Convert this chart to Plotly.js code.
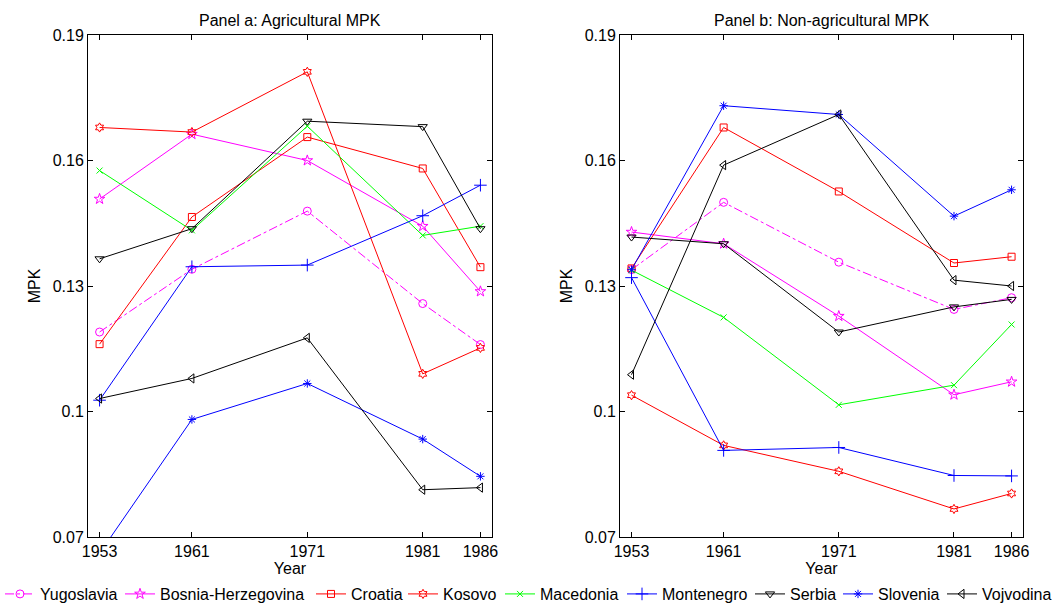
<!DOCTYPE html>
<html><head><meta charset="utf-8">
<script src="https://cdn.plot.ly/plotly-3.0.1.min.js"></script>
<style>body{margin:0;background:#fff}#c{width:1058px;height:608px}</style>
</head><body><div id="c"></div>
<script>
const years = [1953, 1961, 1971, 1981, 1986];
const regions = ["Yugoslavia","Bosnia-Herzegovina","Croatia","Kosovo","Macedonia","Montenegro","Serbia","Slovenia","Vojvodina"];
// Panel a: Agricultural MPK
const agYugoslavia = [0.1190, 0.1340, 0.1479, 0.1258, 0.1160];
const agBosnia     = [0.1508, 0.1663, 0.1600, 0.1443, 0.1287];
const agCroatia    = [0.1161, 0.1465, 0.1656, 0.1581, 0.1345];
const agKosovo     = [0.1679, 0.1668, 0.1812, 0.1090, 0.1152];
const agMacedonia  = [0.1576, 0.1433, 0.1682, 0.1421, 0.1443];
const agMontenegro = [0.1027, 0.1346, 0.1350, 0.1468, 0.1541];
const agSerbia     = [0.1365, 0.1437, 0.1694, 0.1681, 0.1437];
const agSlovenia   = [0.0661, 0.0981, 0.1067, 0.0934, 0.0845];
const agVojvodina  = [0.1031, 0.1079, 0.1176, 0.0813, 0.0818];
// Panel b: Non-agricultural MPK
const naYugoslavia = [0.1339, 0.1500, 0.1357, 0.1244, 0.1272];
const naBosnia     = [0.1429, 0.1401, 0.1228, 0.1040, 0.1071];
const naCroatia    = [0.1342, 0.1679, 0.1526, 0.1355, 0.1370];
const naKosovo     = [0.1039, 0.0919, 0.0857, 0.0767, 0.0804];
const naMacedonia  = [0.1338, 0.1225, 0.1016, 0.1063, 0.1208];
const naMontenegro = [0.1320, 0.0907, 0.0914, 0.0847, 0.0846];
const naSerbia     = [0.1417, 0.1401, 0.1190, 0.1250, 0.1268];
const naSlovenia   = [0.1339, 0.1731, 0.1710, 0.1467, 0.1530];
const naVojvodina  = [0.1088, 0.1589, 0.1710, 0.1314, 0.1300];
const yTickVals = [0.07, 0.10, 0.13, 0.16, 0.19];
const yTickText = ["0.07", "0.1", "0.13", "0.16", "0.19"];

const agData = [agYugoslavia, agBosnia, agCroatia, agKosovo, agMacedonia, agMontenegro, agSerbia, agSlovenia, agVojvodina];
const naData = [naYugoslavia, naBosnia, naCroatia, naKosovo, naMacedonia, naMontenegro, naSerbia, naSlovenia, naVojvodina];

const styles = [
  {color:'#ff00ff', symbol:'circle-open', dash:'dashdot', size:8},
  {color:'#ff00ff', symbol:'star-open', dash:'solid', size:8},
  {color:'#ff0000', symbol:'square-open', dash:'solid', size:7},
  {color:'#ff0000', symbol:'hexagram-open', dash:'solid', size:7},
  {color:'#00ff00', symbol:'x-thin-open', dash:'solid', size:6},
  {color:'#0000ff', symbol:'cross-thin-open', dash:'solid', size:9},
  {color:'#000000', symbol:'triangle-down-open', dash:'solid', size:8},
  {color:'#0000ff', symbol:'asterisk-open', dash:'solid', size:7},
  {color:'#000000', symbol:'triangle-left-open', dash:'solid', size:8}
];
// left pixel of each legend entry's sample (layout only)
const legendLeftPx = [0, 120, 311, 403, 500, 622, 750, 838, 942];

const F = 'Liberation Sans, Arial, Helvetica, sans-serif';
const FS = 16;
const W = 1058;

const traces = [];
function add(data, xa, ya, show) {
  data.forEach((vals, i) => {
    const s = styles[i];
    const t = {
      x: years, y: vals, xaxis: xa, yaxis: ya, name: regions[i],
      type: 'scatter', mode: 'lines+markers', showlegend: show,
      line: {color: s.color, width: 1, dash: s.dash},
      marker: {symbol: s.symbol, size: s.size, color: s.color, line: {color: s.color, width: 1}}
    };
    if (show) t.legend = i === 0 ? 'legend' : 'legend' + (i + 1);
    traces.push(t);
  });
}
add(agData, 'x', 'y', true);
add(naData, 'x2', 'y2', false);

const ax = (dom) => ({
  domain: dom, range: [1952, 1987], tickvals: years, ticktext: years.map(String),
  ticks: 'inside', ticklen: 5, tickcolor: '#000', mirror: 'ticks', showline: true,
  linecolor: '#000', linewidth: 1, showgrid: false, zeroline: false,
  tickfont: {family: F, size: FS, color: '#000'},
  title: {text: 'Year', font: {family: F, size: FS, color: '#000'}, standoff: 0}
});
const ay = (anchor) => ({
  domain: [0.1168, 0.9424], range: [0.07, 0.19], tickvals: yTickVals, ticktext: yTickText,
  ticks: 'inside', ticklen: 5, tickcolor: '#000', mirror: 'ticks', showline: true,
  linecolor: '#000', linewidth: 1, showgrid: false, zeroline: false, anchor: anchor,
  tickfont: {family: F, size: FS, color: '#000'},
  title: {text: 'MPK', font: {family: F, size: FS, color: '#000'}, standoff: 8}
});

const layout = {
  width: W, height: 608,
  margin: {l: 0, r: 0, t: 0, b: 0, autoexpand: false},
  paper_bgcolor: '#fff', plot_bgcolor: '#fff',
  font: {family: F, size: FS, color: '#000'},
  xaxis: Object.assign(ax([0.0832, 0.4650]), {anchor: 'y'}),
  yaxis: ay('x'),
  xaxis2: Object.assign(ax([0.5860, 0.9670]), {anchor: 'y2'}),
  yaxis2: ay('x2'),
  annotations: [
    {text: 'Panel a: Agricultural MPK', xref: 'paper', yref: 'paper', x: 0.2741, xanchor: 'center', y: 0.9424, yanchor: 'bottom', showarrow: false, yshift: 4, font: {family: F, size: FS, color: '#000'}},
    {text: 'Panel b: Non-agricultural MPK', xref: 'paper', yref: 'paper', x: 0.7765, xanchor: 'center', y: 0.9424, yanchor: 'bottom', showarrow: false, yshift: 4, font: {family: F, size: FS, color: '#000'}}
  ],
  showlegend: true
};
legendLeftPx.forEach((px, i) => {
  const key = i === 0 ? 'legend' : 'legend' + (i + 1);
  layout[key] = {orientation: 'h', x: px / W, xanchor: 'left', y: 0.023, yanchor: 'middle',
    font: {family: F, size: FS, color: '#000'}, bgcolor: 'rgba(0,0,0,0)', borderwidth: 0};
});

Plotly.newPlot('c', traces, layout, {staticPlot: true, displayModeBar: false});
</script></body></html>
